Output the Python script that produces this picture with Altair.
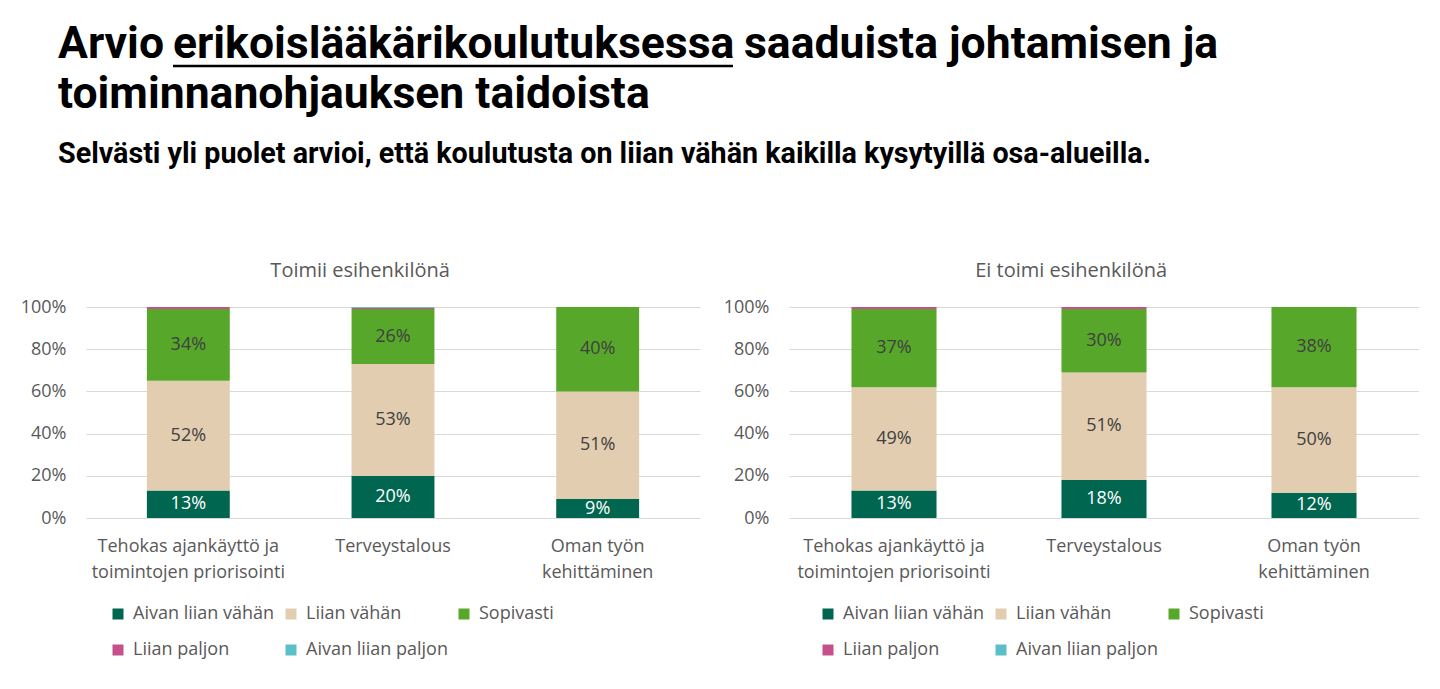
import altair as alt
import pandas as pd

# ---------------- data ----------------
panels = ["Toimii esihenkilönä", "Ei toimi esihenkilönä"]
categories = ["Tehokas ajankäyttö ja\ntoimintojen priorisointi", "Terveystalous", "Oman työn\nkehittäminen"]
series = ["Aivan liian vähän", "Liian vähän", "Sopivasti", "Liian paljon", "Aivan liian paljon"]
colors = ["#00664F", "#E2CDB0", "#57A82A", "#C6508A", "#5BBFC8"]

# Toimii esihenkilönä (per category)
toimii_aivan_liian_vahan = [13, 20, 9]
toimii_liian_vahan = [52, 53, 51]
toimii_sopivasti = [34, 26, 40]
toimii_liian_paljon = [1, 0.7, 0]
toimii_aivan_liian_paljon = [0, 0.3, 0]

# Ei toimi esihenkilönä (per category)
ei_aivan_liian_vahan = [13, 18, 12]
ei_liian_vahan = [49, 51, 50]
ei_sopivasti = [37, 30, 38]
ei_liian_paljon = [1, 1, 0]
ei_aivan_liian_paljon = [0, 0, 0]

y_ticks = [0, 20, 40, 60, 80, 100]

title_part1 = "Arvio"
title_part2 = "erikoislääkärikoulutuksessa"
title_part3 = "saaduista johtamisen ja"
title_line2 = "toiminnanohjauksen taidoista"
subtitle = "Selvästi yli puolet arvioi, että koulutusta on liian vähän kaikilla kysytyillä osa-alueilla."

panel_series = {
    panels[0]: [toimii_aivan_liian_vahan, toimii_liian_vahan, toimii_sopivasti,
                toimii_liian_paljon, toimii_aivan_liian_paljon],
    panels[1]: [ei_aivan_liian_vahan, ei_liian_vahan, ei_sopivasti,
                ei_liian_paljon, ei_aivan_liian_paljon],
}

rows = []
for p, lists in panel_series.items():
    for si, vals in enumerate(lists):
        for ci, v in enumerate(vals):
            rows.append({"panel": p, "category": categories[ci], "series": series[si],
                         "order": si, "value": v})
df = pd.DataFrame(rows)

FONT = "Open Sans"
GREY = "#595959"
NOVIEW = alt.ViewBackground(strokeWidth=0, strokeOpacity=0)


def make_panel(name, width, legend_x):
    d = df[df.panel == name]
    base = alt.Chart(d).transform_stack(
        stack="value", groupby=["category"], as_=["v0", "v1"],
        sort=[alt.SortField("order", order="ascending")]
    ).transform_calculate(mid="(datum.v0 + datum.v1) / 2",
                          lbl="format(datum.value, 'd') + '%'")

    x_enc = alt.X("category:N", sort=categories,
                  scale=alt.Scale(paddingInner=0.595, paddingOuter=0.2975),
                  axis=alt.Axis(title=None, labelAngle=0, domain=False, ticks=False,
                                labelExpr="split(datum.label, '\\n')", labelLimit=400,
                                labelFontSize=18, labelColor=GREY, labelFont=FONT,
                                labelPadding=19, labelLineHeight=26))
    y_enc = alt.Y("v0:Q", scale=alt.Scale(domain=[0, 100], nice=False),
                  axis=alt.Axis(title=None, values=y_ticks, labelExpr="datum.value + '%'",
                                domain=False, ticks=False, grid=True, gridColor="#d9d9d9",
                                labelFontSize=18, labelColor=GREY, labelFont=FONT,
                                labelPadding=20))
    bars = base.mark_bar().encode(
        x=x_enc, y=y_enc, y2="v1:Q",
        color=alt.Color("series:N", scale=alt.Scale(domain=series, range=colors),
                        legend=alt.Legend(title=None, orient="none", legendX=legend_x,
                                          legendY=298, columns=3, direction="horizontal",
                                          symbolType="square",
                                          symbolSize=121, symbolStrokeWidth=0,
                                          labelFontSize=18, labelColor=GREY, labelFont=FONT,
                                          columnPadding=7, rowPadding=18, labelOffset=6)),
    )
    text = base.transform_filter("datum.order < 3").mark_text(
        font=FONT, fontSize=18, baseline="middle"
    ).encode(
        x=alt.X("category:N", sort=categories),
        y=alt.Y("mid:Q"),
        text="lbl:N",
        color=alt.condition("datum.order == 0", alt.value("white"), alt.value("#404040")),
    )
    return alt.layer(bars, text).properties(
        width=width, height=211, view=NOVIEW,
        title=alt.TitleParams(name, fontSize=20, font=FONT, fontWeight="normal",
                              color=GREY, anchor="middle", frame="bounds", offset=17),
    )


p1 = make_panel(panels[0], 614, 23)
p2 = make_panel(panels[1], 630, 30)
row = alt.hconcat(p1, p2, spacing=23).resolve_scale(color="independent", x="independent",
                                                     y="independent")

# ---------------- header ----------------
hdr = alt.Chart(alt.Data(values=[{"k": 1}]))
TF = "Roboto"
OX = 88  # header origin aligns with the first plot's origin
OY = 0


def htext(t, x, y, size):
    return hdr.mark_text(font=TF, fontSize=size, fontWeight="bold", align="left",
                         baseline="alphabetic", color="#000000").encode(
        x=alt.value(x - OX), y=alt.value(y - OY), text=alt.value(t))


header = alt.layer(
    htext(title_part1, 60, 58, 44.5),
    htext(title_part2, 175, 58, 44.5),
    htext(title_part3, 746, 58, 44.5),
    htext(title_line2, 60, 108, 44.5),
    htext(subtitle, 60, 163, 28.7),
    hdr.mark_rule(color="#000000", strokeWidth=2.5).encode(
        x=alt.value(175 - OX), x2=alt.value(735 - OX), y=alt.value(66 - OY)),
).properties(width=1250, height=200, view=NOVIEW)

chart = alt.vconcat(header, row, spacing=61).properties(
    padding={"left": 20, "top": 0, "right": 0, "bottom": 0}
).configure_view(strokeWidth=0, stroke="transparent").configure(font=FONT)

chart.save("out.html", embed_options={"renderer": "svg", "actions": False})
